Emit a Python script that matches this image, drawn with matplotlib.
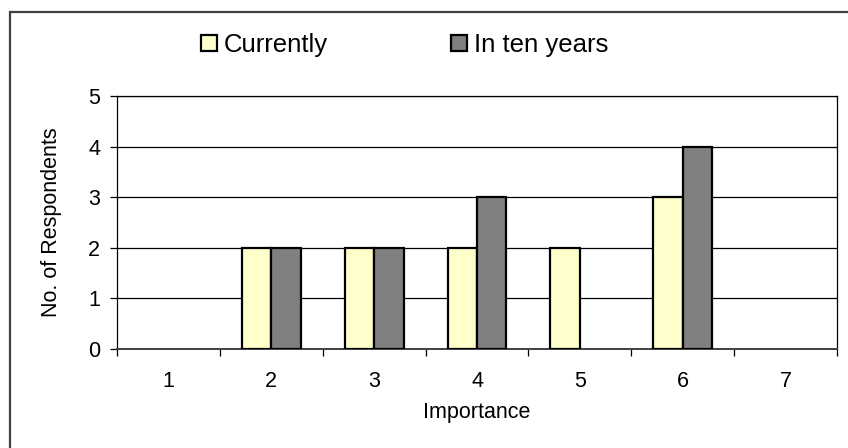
import numpy as np
import matplotlib
matplotlib.use('Agg')
import matplotlib.pyplot as plt
from matplotlib.patches import Rectangle

plt.rcParams['font.family'] = ['Liberation Sans', 'DejaVu Sans']

# data
categories = ['1', '2', '3', '4', '5', '6', '7']
currently = [0, 2, 2, 2, 2, 3, 0]
ten_years = [0, 2, 2, 3, 0, 4, 0]

fig = plt.figure(figsize=(8.48, 4.48), dpi=100)
ax = fig.add_axes([117/848, 1-349/448, (837-117)/848, (349-96)/448])

x = np.arange(len(categories))
w = 1/3.5
# no outline for empty bars
lw_cur = [1.6 if v else 0 for v in currently]
lw_ten = [1.6 if v else 0 for v in ten_years]
ax.bar(x - w/2, currently, w, color='#FFFFCC', edgecolor='black', linewidth=lw_cur, label='Currently', zorder=3)
ax.bar(x + w/2, ten_years, w, color='#808080', edgecolor='black', linewidth=lw_ten, label='In ten years', zorder=3)

ax.set_xlim(-0.5, len(categories)-0.5)
ax.set_ylim(0, 5)
ax.set_yticks(range(6))
ax.yaxis.grid(True, color='black', linewidth=0.9, zorder=0)
ax.set_xticks(x)
ax.set_xticklabels(categories)
ax.set_xticks(np.arange(-0.5, len(categories)), minor=True)
ax.tick_params(axis='x', which='major', length=0, pad=16, labelsize=15.5)
ax.tick_params(axis='x', which='minor', length=5, width=0.9, direction='out')
ax.tick_params(axis='y', length=5, width=0.9, direction='out', pad=7, labelsize=15.5)
for s in ax.spines.values():
    s.set_color('black')
    s.set_linewidth(0.9)
ax.spines['bottom'].set_color('#404040')
ax.spines['bottom'].set_linewidth(1.4)

ax.set_xlabel('Importance', fontsize=15.5, labelpad=7)
ax.set_ylabel('No. of Respondents', fontsize=15.5, labelpad=19)

leg = fig.legend(loc='center left', bbox_to_anchor=(201/848, 1-45/448), ncol=2, frameon=False,
                 fontsize=18.5, handlelength=0.62, handleheight=0.62, handletextpad=0.27,
                 columnspacing=4.8, borderpad=0, borderaxespad=0)
for h in leg.legend_handles:
    h.set_linewidth(1.6)

# outer chart border
fig.patches.append(Rectangle((10/848, -0.2), 1.2, 1.2 - 12/448, transform=fig.transFigure,
                             fill=False, edgecolor='#404040', linewidth=1.6, zorder=0))

fig.savefig('out.png', dpi=100)
